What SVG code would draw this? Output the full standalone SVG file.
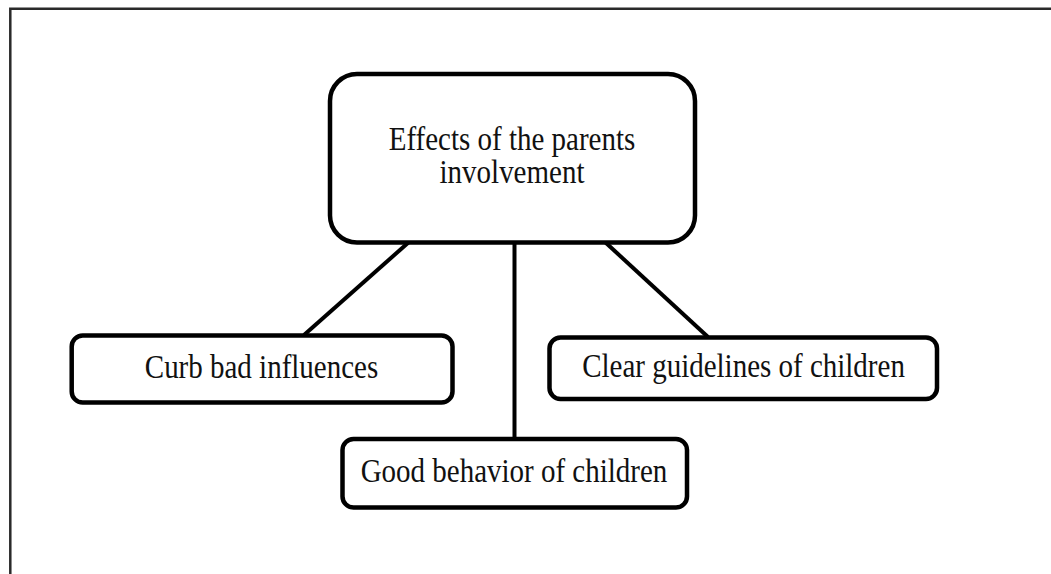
<svg xmlns="http://www.w3.org/2000/svg" width="1051" height="574" viewBox="0 0 1051 574">
  <style>
    .box { fill: #ffffff; stroke: #000000; stroke-width: 4.5; }
    .conn { stroke: #000000; stroke-width: 4; fill: none; }
    .lbl { font-family: "Liberation Serif", "Times New Roman", serif; font-size: 29px; fill: #111111; text-anchor: middle; }
    .frame { stroke: #2a2a2a; stroke-width: 2.5; fill: none; }
  </style>
  <rect width="1051" height="574" fill="#ffffff"/>
  <path class="frame" d="M10.3,574 V8.7 H1051"/>
  <g id="connectors">
    <line class="conn" x1="409" y1="242" x2="304" y2="335"/>
    <line class="conn" x1="514.5" y1="242" x2="514.5" y2="439"/>
    <line class="conn" x1="605" y1="242" x2="708" y2="337"/>
  </g>
  <g id="node-root">
    <rect class="box" x="330" y="74" width="365" height="168.5" rx="27" ry="27"/>
    <text class="lbl" transform="translate(512,150) scale(1,1.14)"><tspan x="0" y="0">Effects of the parents</tspan><tspan x="0" y="28.95">involvement</tspan></text>
  </g>
  <g id="node-curb">
    <rect class="box" x="71.7" y="335.5" width="380.8" height="67" rx="11" ry="11"/>
    <text class="lbl" transform="translate(261.5,378) scale(1,1.14)">Curb bad influences</text>
  </g>
  <g id="node-good">
    <rect class="box" x="342.5" y="439" width="344.5" height="68.5" rx="11" ry="11"/>
    <text class="lbl" transform="translate(514,482) scale(1,1.14)">Good behavior of children</text>
  </g>
  <g id="node-clear">
    <rect class="box" x="549.5" y="337.5" width="387.5" height="61.5" rx="11" ry="11"/>
    <text class="lbl" transform="translate(743.5,377) scale(1,1.14)">Clear guidelines of children</text>
  </g>
</svg>
